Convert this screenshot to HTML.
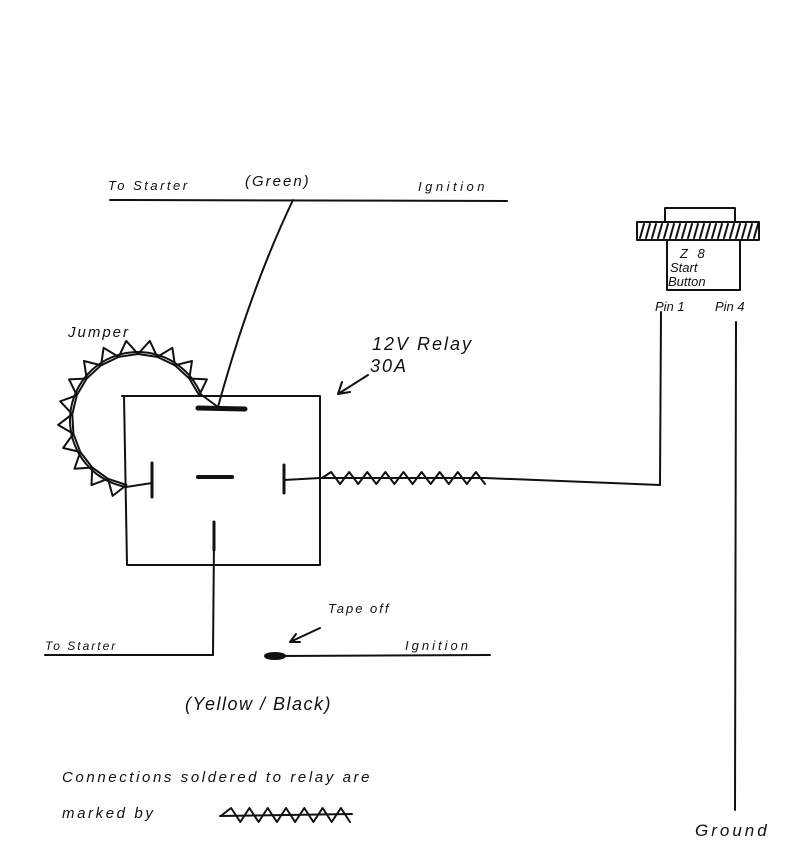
<!DOCTYPE html>
<html><head><style>
body{margin:0;background:#fff}
svg{display:block}
text{font-family:"Liberation Sans",sans-serif;fill:#111;font-style:italic}
</style></head><body>
<svg id="s" width="800" height="857" viewBox="0 0 800 857" fill="none" stroke="#111" stroke-width="2" stroke-linecap="round" stroke-linejoin="round">
<path d="M110 200 L507 201"/>
<text x="108" y="190" font-size="13" letter-spacing="2.5" stroke="none">To Starter</text>
<text x="245" y="186" font-size="15" letter-spacing="2" stroke="none">(Green)</text>
<text x="418" y="191" font-size="13" letter-spacing="3.5" stroke="none">Ignition</text>
<path d="M293 200 Q250 290 218 407"/>
<path d="M122 396 L320 396 L320 565 L127 565 L124 396"/>
<path d="M198 408 L245 409" stroke-width="5"/>
<path d="M152 463 L152 497" stroke-width="3"/>
<path d="M198 477 L232 477" stroke-width="4"/>
<path d="M284 465 L284 493" stroke-width="3"/>
<path d="M284 480 L320 478"/>
<path d="M214 522 L214 550" stroke-width="3"/>
<path d="M214 540 L213 655 L45 655"/>
<text x="45" y="650" font-size="12" letter-spacing="2" stroke="none">To Starter</text>
<path id="jarc" d=""/>
<path id="jz" d=""/>
<text x="68" y="337" font-size="15" letter-spacing="2" stroke="none">Jumper</text>
<text x="372" y="350" font-size="18" letter-spacing="2" stroke="none">12V  Relay</text>
<text x="370" y="372" font-size="18" letter-spacing="2" stroke="none">30A</text>
<path d="M368 375 L338 394 M338 394 L342 382 M338 394 L350 392"/>
<path id="rz" d=""/>
<path d="M320 478 L485 478 L660 485 L661 312"/>
<ellipse cx="275" cy="656" rx="10" ry="3" fill="#111"/>
<path d="M280 656 L490 655"/>
<text x="405" y="650" font-size="13" letter-spacing="3" stroke="none">Ignition</text>
<text x="328" y="613" font-size="13" letter-spacing="2" stroke="none">Tape off</text>
<path d="M320 628 L290 642 M290 642 L296 634 M290 642 L300 642"/>
<text x="185" y="710" font-size="18" letter-spacing="1.5" stroke="none">(Yellow / Black)</text>
<rect x="665" y="208" width="70" height="14"/>
<rect x="637" y="222" width="122" height="18"/>
<path id="kn" d=""/>
<path d="M667 240 L667 290 L740 290 L740 240"/>
<text x="680" y="258" font-size="13" letter-spacing="3" stroke="none">Z 8</text>
<text x="670" y="272" font-size="13" stroke="none">Start</text>
<text x="668" y="286" font-size="13" stroke="none">Button</text>
<text x="655" y="311" font-size="13" stroke="none">Pin 1</text>
<text x="715" y="311" font-size="13" stroke="none">Pin 4</text>
<path d="M736 322 L735 810"/>
<text x="695" y="836" font-size="17" letter-spacing="3" stroke="none">Ground</text>
<text x="62" y="782" font-size="15" letter-spacing="2.6" stroke="none">Connections  soldered  to  relay  are</text>
<text x="62" y="818" font-size="15" letter-spacing="2.6" stroke="none">marked  by</text>
<path id="lz" d=""/>
<path d="M220 816 L352 814"/>
</svg>
<script>
function zig(x1,x2,y,n,a){let d="M"+x1+" "+y;for(let i=1;i<=n;i++){let x=x1+(x2-x1)*i/n;d+=" L"+x.toFixed(1)+" "+(i%2?y-a:y+a);}return d;}
document.getElementById('rz').setAttribute('d',zig(322,485,478,18,6));
document.getElementById('lz').setAttribute('d',zig(222,350,815,14,7));
let k="";for(let x=640;x<758;x+=6){k+="M"+x+" 238 L"+(x+4)+" 224 ";}
document.getElementById('kn').setAttribute('d',k);
let cx=138,cy=420,r=68,a0=100*Math.PI/180,a1=338*Math.PI/180;
let arc="";for(let i=0;i<=60;i++){let a=a0+(a1-a0)*i/60;arc+=(i?"L":"M")+(cx+r*Math.cos(a)).toFixed(1)+" "+(cy+r*Math.sin(a)).toFixed(1)+" ";}
arc+="L218 407";
document.getElementById('jarc').setAttribute('d',"M152 483 L"+(cx+r*Math.cos(a0)).toFixed(1)+" "+(cy+r*Math.sin(a0)).toFixed(1)+" "+arc.replace(/^M/,"L"));
let z="";let n=14;for(let i=0;i<n;i++){let aa=a0+(a1-a0)*i/n,ab=a0+(a1-a0)*(i+0.5)/n,ac=a0+(a1-a0)*(i+1)/n;
let p=(a,rr)=>(cx+rr*Math.cos(a)).toFixed(1)+" "+(cy+rr*Math.sin(a)).toFixed(1);
z+="M"+p(aa,r-2)+" L"+p(ab,r+12)+" L"+p(ac,r-2)+" Z ";}
document.getElementById('jz').setAttribute('d',z);
</script>
</body></html>
